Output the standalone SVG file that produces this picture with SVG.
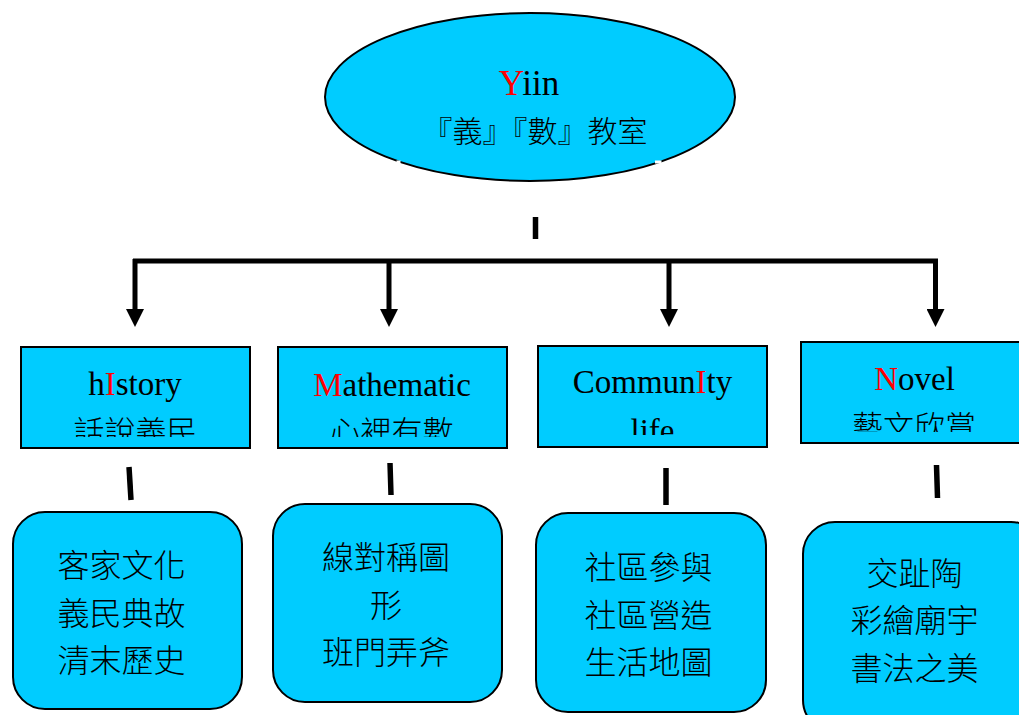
<svg xmlns="http://www.w3.org/2000/svg" width="1019" height="715" viewBox="0 0 1019 715">
<style>
.shape{fill:#00CCFF;stroke:#000;stroke-width:2}
.lat{font-family:"Liberation Serif","Times New Roman",serif;font-size:33px;fill:#000;text-anchor:middle}
.cjk{font-family:"Noto Sans CJK TC","Noto Sans CJK SC",sans-serif;font-size:31px;font-weight:300;fill:#000;text-anchor:middle}
.red{fill:#FF0000}
.con{stroke:#000;stroke-width:5;fill:none}
.stub{stroke:#000;stroke-width:5.5;fill:none}
</style>
<defs>
<marker id="ah" markerUnits="userSpaceOnUse" markerWidth="18" markerHeight="18" viewBox="0 0 18 18" refX="0" refY="9" orient="auto">
<path d="M0,0 L18,9 L0,18 z" fill="#000"/>
</marker>
<clipPath id="c1"><rect x="0" y="0" width="1019" height="437"/></clipPath>
<clipPath id="c2"><rect x="0" y="0" width="1019" height="437"/></clipPath>
<clipPath id="c3"><rect x="0" y="0" width="1019" height="435"/></clipPath>
<clipPath id="c4"><rect x="0" y="0" width="1019" height="432"/></clipPath>
</defs>
<rect width="1019" height="715" fill="#fff"/>

<g id="root">
<ellipse class="shape" cx="530" cy="97" rx="205" ry="84"/>
<rect x="396.5" y="160.5" width="4" height="3" fill="#fff"/>
<rect x="655" y="160.5" width="6.5" height="3" fill="#fff"/>
<text class="lat" x="529" y="95" style="font-size:35px"><tspan class="red">Y</tspan>iin</text>
<text class="cjk" x="535" y="142" style="font-size:30px">『義』『數』教室</text>
</g>

<g id="connectors">
<line class="stub" x1="535.5" y1="217" x2="535.5" y2="239"/>
<line class="con" x1="133" y1="261" x2="938" y2="261"/>
<line class="con" x1="135" y1="259" x2="135" y2="309" marker-end="url(#ah)"/>
<line class="con" x1="389" y1="259" x2="389" y2="309" marker-end="url(#ah)"/>
<line class="con" x1="669" y1="259" x2="669" y2="309" marker-end="url(#ah)"/>
<line class="con" x1="935.5" y1="259" x2="935.5" y2="309" marker-end="url(#ah)"/>
<line class="stub" x1="129" y1="467" x2="131" y2="500"/>
<line class="stub" x1="390" y1="463" x2="391" y2="495"/>
<line class="stub" x1="666" y1="468" x2="666" y2="505"/>
<line class="stub" x1="936.5" y1="465" x2="937.5" y2="498"/>
</g>

<g id="history">
<rect class="shape" x="21" y="347" width="229" height="101"/>
<text class="lat" x="135" y="395">h<tspan class="red">I</tspan>story</text>
<text class="cjk" x="135.5" y="443" clip-path="url(#c1)">話說義民</text>
</g>

<g id="mathematic">
<rect class="shape" x="278" y="347" width="229" height="101"/>
<text class="lat" x="392" y="396"><tspan class="red">M</tspan>athematic</text>
<text class="cjk" x="391.5" y="443" clip-path="url(#c2)">心裡有數</text>
</g>

<g id="community">
<rect class="shape" x="538" y="346" width="229" height="101"/>
<text class="lat" x="652.5" y="393">Commun<tspan class="red">I</tspan>ty</text>
<text class="lat" x="652.5" y="441.5" clip-path="url(#c3)">life</text>
</g>

<g id="novel">
<rect class="shape" x="801" y="342" width="229" height="101"/>
<text class="lat" x="914.5" y="390"><tspan class="red">N</tspan>ovel</text>
<text class="cjk" x="914" y="438" clip-path="url(#c4)">藝文欣賞</text>
</g>

<g id="hakka">
<rect class="shape" x="13" y="512" width="229" height="197" rx="32" ry="32"/>
<text class="cjk" x="121.5" y="577" style="font-size:32px">客家文化</text>
<text class="cjk" x="121.5" y="625" style="font-size:32px">義民典故</text>
<text class="cjk" x="121.5" y="672" style="font-size:32px">清末歷史</text>
</g>

<g id="symmetry">
<rect class="shape" x="273" y="504" width="229" height="198" rx="32" ry="32"/>
<text class="cjk" x="386" y="569" style="font-size:32px">線對稱圖</text>
<text class="cjk" x="386" y="617" style="font-size:32px">形</text>
<text class="cjk" x="386" y="664" style="font-size:32px">班門弄斧</text>
</g>

<g id="communitylife">
<rect class="shape" x="536" y="513" width="230" height="199" rx="32" ry="32"/>
<text class="cjk" x="648.5" y="579" style="font-size:32px">社區參與</text>
<text class="cjk" x="648.5" y="627" style="font-size:32px">社區營造</text>
<text class="cjk" x="648.5" y="674" style="font-size:32px">生活地圖</text>
</g>

<g id="art">
<rect class="shape" x="803" y="522" width="240" height="210" rx="32" ry="32"/>
<text class="cjk" x="914.5" y="585" style="font-size:32px">交趾陶</text>
<text class="cjk" x="914.5" y="632" style="font-size:32px">彩繪廟宇</text>
<text class="cjk" x="914.5" y="680" style="font-size:32px">書法之美</text>
</g>
</svg>
